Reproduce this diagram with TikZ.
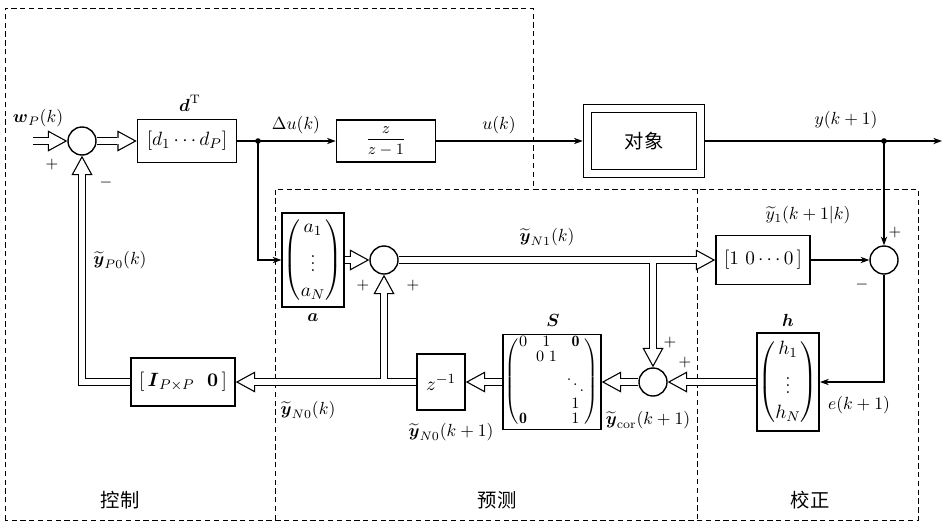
\documentclass[tikz,border=0pt]{standalone}
\usepackage{amsmath}
\usepackage{fontspec}
\newfontfamily\cjk{Noto Sans CJK SC}
\usetikzlibrary{arrows.meta}

\tikzset{
  blk/.style={draw, line width=0.9pt, fill=white, inner sep=1pt},
  sumc/.style={draw, circle, line width=0.8pt, fill=white, minimum size=5.6mm, inner sep=0pt},
  sig/.style={line width=0.6pt, ->},
  dblout/.style={line width=5pt, line cap=butt, line join=miter,
    -{Triangle[length=11pt,width=12pt,line width=0pt]}},
  dblin/.style={draw=white, line width=3.6pt, shorten >=1.46pt,
    -{Triangle[length=8.84pt,width=9.64pt,line width=0pt,fill=white]}},
  dbl/.style={dblout, postaction={dblin}},
  dblbr/.style={dblout, shorten <=1.8pt, postaction={dblin, shorten <=0pt}},
  region/.style={line width=0.5pt, dash pattern=on 3pt off 2pt},
  sgn/.style={font=\small},
  lbl/.style={inner sep=1pt, font=\fontsize{10pt}{12pt}\selectfont},
}

\begin{document}
\begin{tikzpicture}[x=0.2mm, y=-0.2mm, >={Stealth[length=5pt,width=3.6pt]},
  font=\fontsize{11pt}{13pt}\selectfont]
\useasboundingbox (0,0) rectangle (950,530);

% Vùng
\draw[region] (5,520) |- (533,8) |- (918,189) |- (5,520);
\draw[region] (275,520) |- (533,189);
\draw[region] (697,189) -- (697,520);

% Tọa độ
\coordinate (win) at (33,141);
\coordinate (jdu) at (258,141);
\coordinate (jy) at (884,141);
\coordinate (yout) at (942,141);
\coordinate (jn1) at (653,260);
\coordinate (jn0) at (384,382);

% Khối
\node[sumc] (c1) at (82,141) {};
\node[blk, minimum width=19.8mm, minimum height=8.6mm] (d) at (187,141) {$[d_1\cdots d_P]$};
\node[blk, minimum width=19.8mm, minimum height=8.4mm, font=\small] (zz) at (386,141) {$\dfrac{z}{z-1}$};
\node[blk, minimum width=24.2mm, minimum height=14.6mm] (obj) at (644,141) {};
\node[blk, minimum width=21mm, minimum height=11.4mm] (objin) at (644,141) {\cjk 对象};
\node[blk, minimum width=10.6mm, minimum height=18.8mm] (a) at (313,260)
  {$\left(\begin{matrix}a_1\\[3pt]\vdots\\[1pt]a_N\end{matrix}\right)$};
\node[sumc] (c2) at (384,260) {};
\node[blk, minimum width=18.8mm, minimum height=9.8mm] (one) at (763,260) {$[1\ 0\cdots 0\,]$};
\node[sumc] (c3) at (884,260) {};
\node[blk, minimum width=11.4mm, minimum height=19.6mm] (h) at (788,382)
  {$\left(\begin{matrix}h_1\\[3pt]\vdots\\[1pt]h_N\end{matrix}\right)$};
\node[sumc] (c4) at (653,382) {};
\node[blk, minimum width=19.6mm, minimum height=19mm, inner sep=0pt, font=\small] (S) at (552,382)
  {\renewcommand{\arraystretch}{0.8}$\left(\begin{array}{@{}c@{\;\;}c@{\;\;}c@{}}
    0 & 1 & \mathbf{0}\\ & 0\;1 & \\ & & \ddots\\ & & 1\\ \mathbf{0} & & 1
  \end{array}\right)$};
\node[blk, minimum width=9.6mm, minimum height=11.2mm] (zinv) at (441,382) {$z^{-1}$};
\node[blk, minimum width=20.8mm, minimum height=9.6mm] (I) at (183,382)
  {$[\,\boldsymbol{I}_{P\times P}\ \ \boldsymbol{0}\,]$};

% Đường đơn
\draw[sig] (d.east) -- (zz.west);
\draw[sig] (jdu) |- (a.west);
\draw[sig] (zz.east) -- (obj.west);
\draw[sig] (obj.east) -- (yout);
\draw[sig] (jy) -- (c3.north);
\draw[sig] (one.east) -- (c3.west);
\draw[sig] (c3.south) |- (h.east);
\fill (jdu) circle (1.6pt);
\fill (jy) circle (1.6pt);

% Đường kép
\draw[dbl] (win) -- (c1.west);
\draw[dbl] (c1.east) -- (d.west);
\draw[dbl] (a.east) -- (c2.west);
\draw[dbl] (c2.east) -- (one.west);
\draw[dblbr] (jn1) -- (c4.north);
\draw[dbl] (h.west) -- (c4.east);
\draw[dbl] (c4.west) -- (S.east);
\draw[dbl] (S.west) -- (zinv.east);
\draw[dbl] (zinv.west) -- (I.east);
\draw[dblbr] (jn0) -- (c2.south);
\draw[dbl] (I.west) -| (c1.south);

% Nhãn
\node[lbl] (lw) at (38,118) {$\boldsymbol{w}_P(k)$};
\node[lbl] (ld) at (190,103) {$\boldsymbol{d}^{\mathrm{T}}$};
\node[lbl] (ldu) at (296,125) {$\Delta u(k)$};
\node[lbl] (lu) at (499,125) {$u(k)$};
\node[lbl] (ly) at (846,120) {$y(k+1)$};
\node[lbl] (ly1) at (808,215) {$\widetilde{y}_1(k+1|k)$};
\node[lbl] (lyn1) at (547,237) {$\widetilde{\boldsymbol{y}}_{N1}(k)$};
\node[lbl] (lyp0) at (120,260) {$\widetilde{\boldsymbol{y}}_{P0}(k)$};
\node[lbl] (la) at (313,318) {$\boldsymbol{a}$};
\node[lbl] (lh) at (788,320) {$\boldsymbol{h}$};
\node[lbl] (lS) at (553,320) {$\boldsymbol{S}$};
\node[lbl] (le) at (859,405) {$e(k+1)$};
\node[lbl] (lycor) at (648,420) {$\widetilde{\boldsymbol{y}}_{\mathrm{cor}}(k+1)$};
\node[lbl] (lyn0) at (308,410) {$\widetilde{\boldsymbol{y}}_{N0}(k)$};
\node[lbl] (lyn0b) at (451,432) {$\widetilde{\boldsymbol{y}}_{N0}(k+1)$};
\node (tctl) at (120,500) {\cjk 控制};
\node (tpre) at (497,500) {\cjk 预测};
\node (tcor) at (810,500) {\cjk 校正};

% Dấu
\node[sgn] (s1) at (52,165) {$+$};
\node[sgn] (s2) at (106,183) {$-$};
\node[sgn] (s3) at (363,286) {$+$};
\node[sgn] (s4) at (413,286) {$+$};
\node[sgn] (s5) at (895,233) {$+$};
\node[sgn] (s6) at (862,285) {$-$};
\node[sgn] (s7) at (670,343) {$+$};
\node[sgn] (s8) at (685,363) {$+$};
\end{tikzpicture}
\end{document}
